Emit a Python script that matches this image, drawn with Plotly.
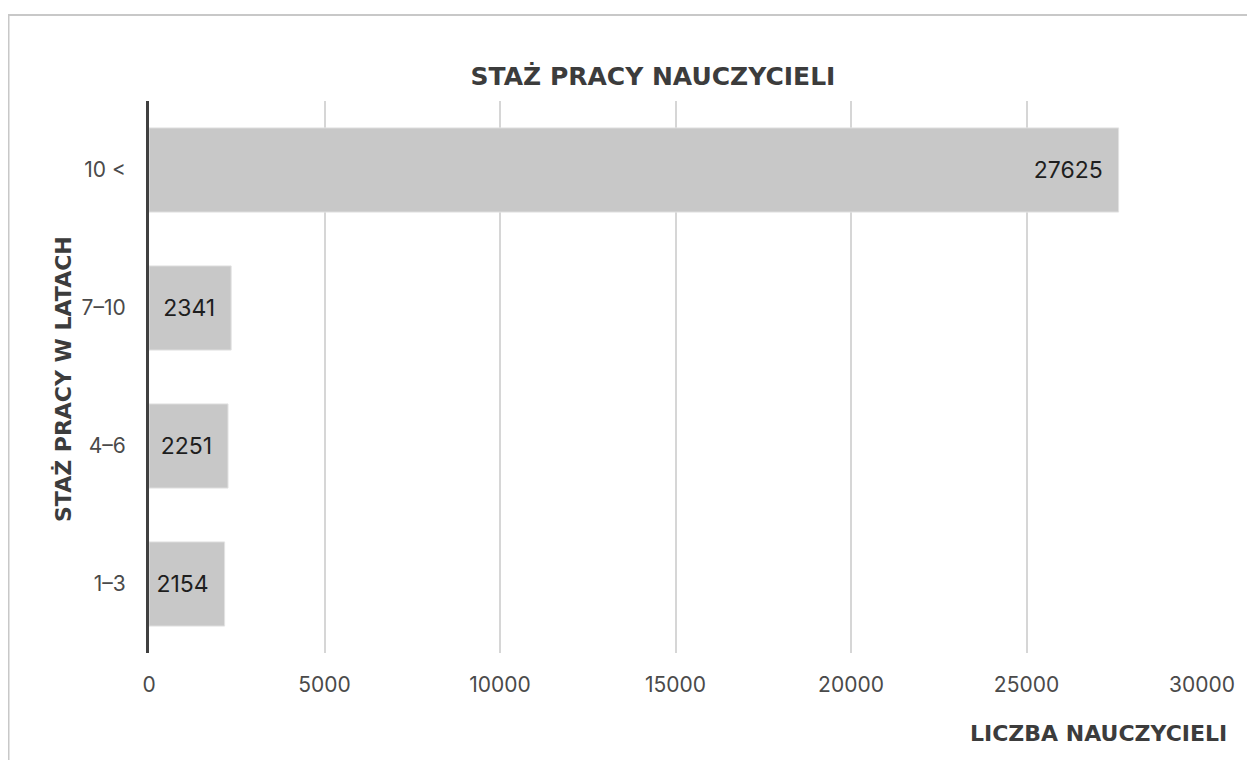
import plotly.graph_objects as go

# Data
categories = ["1–3", "4–6", "7–10", "10 <"]
values = [2154, 2251, 2341, 27625]
x_ticks = [0, 5000, 10000, 15000, 20000, 25000, 30000]
x_tick_labels = ["0", "5000", "10000", "15000", "20000", "25000", "30000"]

title_text = "STAŻ PRACY NAUCZYCIELI"
x_title = "LICZBA NAUCZYCIELI"
y_title = "STAŻ PRACY W LATACH"

OFF = 7  # page offset of the figure inside the browser window
W, H = 1255, 760
# screen-space plot area in the reference
SL, SR, ST, SB = 148, 1201, 100, 652
L, T = SL - OFF, ST - OFF
R = W - (SR - OFF)
B = H - (SB - OFF)
pw, ph = W - L - R, H - T - B


def px_x(p):
    return (p - OFF - L) / pw


def px_y(p):
    return (H - B - (p - OFF)) / ph


BOLD = "DejaVu Sans"

fig = go.Figure(
    go.Bar(
        y=categories,
        x=values,
        orientation="h",
        marker=dict(color="#c8c8c8", line=dict(color="#e2e2e2", width=1)),
        text=[f"{v}\u00a0\u00a0" for v in values],
        textposition="inside",
        insidetextanchor="end",
        textangle=0,
        textfont=dict(family="Inter", size=23, color="#1e1e1e"),
        constraintext="none",
        hoverinfo="skip",
    )
)

fig.update_layout(
    width=W,
    height=H,
    margin=dict(l=L, r=R, t=T, b=B, autoexpand=False),
    paper_bgcolor="white",
    plot_bgcolor="white",
    bargap=0.39,
    showlegend=False,
    title=dict(
        text=title_text,
        x=(652 - OFF) / W,
        xanchor="center",
        y=1 - (75 - OFF) / H,
        yanchor="middle",
        font=dict(family=BOLD, size=25, color="#3c3c3c", weight="bold"),
    ),
    xaxis=dict(
        range=[0, 30000],
        tickvals=x_ticks,
        ticktext=x_tick_labels,
        showgrid=True,
        gridcolor="#d6d6d6",
        gridwidth=2,
        zeroline=False,
        showline=False,
        ticks="",
        ticklabelstandoff=17,
        tickfont=dict(family="Inter", size=21, color="#4a4a4a"),
        fixedrange=True,
    ),
    yaxis=dict(
        categoryorder="array",
        categoryarray=categories,
        showgrid=False,
        zeroline=False,
        showline=True,
        linecolor="#404040",
        linewidth=3,
        ticks="",
        ticklabelstandoff=16,
        tickfont=dict(family="Inter", size=21, color="#4a4a4a"),
        fixedrange=True,
    ),
    shapes=[
        dict(
            type="rect",
            xref="paper",
            yref="paper",
            x0=px_x(7.5),
            x1=px_x(1247),
            y0=px_y(790),
            y1=px_y(14),
            line=dict(color="#c8c8c8", width=2),
            fillcolor="rgba(0,0,0,0)",
            layer="below",
        )
    ],
    annotations=[
        dict(
            text=x_title,
            xref="paper",
            yref="paper",
            x=px_x(1228),
            y=px_y(732),
            xanchor="right",
            yanchor="middle",
            showarrow=False,
            font=dict(family=BOLD, size=22, color="#3c3c3c", weight="bold"),
        ),
        dict(
            text=y_title,
            xref="paper",
            yref="paper",
            x=px_x(62),
            y=px_y(378),
            xanchor="center",
            yanchor="middle",
            textangle=-90,
            showarrow=False,
            font=dict(family=BOLD, size=22, color="#3c3c3c", weight="bold"),
        ),
    ],
)

fig.write_html("out.html")
